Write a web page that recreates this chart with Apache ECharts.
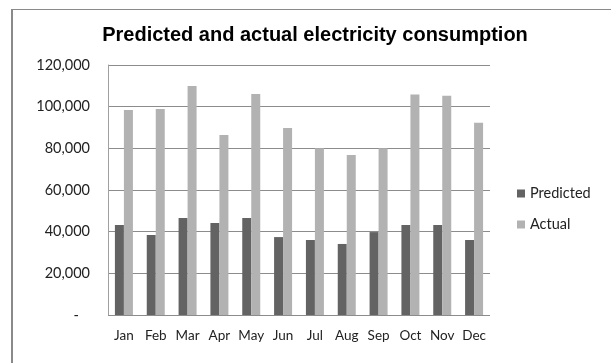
<!DOCTYPE html>
<html>
<head>
<meta charset="utf-8">
<script src="https://cdn.jsdelivr.net/npm/echarts@6/dist/echarts.min.js"></script>
<style>html,body{margin:0;padding:0;background:#fff}#c{width:611px;height:363px}</style>
</head>
<body>
<div id="c"></div>
<script>
var months = ['Jan','Feb','Mar','Apr','May','Jun','Jul','Aug','Sep','Oct','Nov','Dec'];
var predicted = [43200, 38400, 46600, 44200, 46600, 37400, 36000, 34100, 39800, 43200, 43200, 36000];
var actual = [98400, 98900, 109900, 86400, 106100, 89800, 80000, 76800, 80000, 105800, 105300, 92300];
var yTicks = {min: 0, max: 120000, interval: 20000};

var chart = echarts.init(document.getElementById('c'), null, {renderer: 'canvas'});
var font = 'Lato, "Open Sans", sans-serif';
chart.setOption({
  backgroundColor: '#ffffff',
  animation: false,
  title: {
    text: 'Predicted and actual electricity consumption',
    left: 315, top: 25, textAlign: 'center', padding: 0,
    textStyle: {fontFamily: 'Liberation Sans, Arial, sans-serif', fontSize: 20, fontWeight: 'bold', color: '#000'}
  },
  graphic: [
    {type: 'line', shape: {x1: 12, y1: 9.5, x2: 620, y2: 9.5}, style: {stroke: '#8a8a8a', lineWidth: 1}},
    {type: 'line', shape: {x1: 12, y1: 9, x2: 12, y2: 370}, style: {stroke: '#8a8a8a', lineWidth: 2}}
  ],
  legend: {
    orient: 'vertical', left: 517, top: 186, padding: 0, itemWidth: 8, itemHeight: 8, itemGap: 16,
    icon: 'rect',
    textStyle: {fontFamily: font, fontSize: 14.5, color: '#222'},
    data: ['Predicted', 'Actual']
  },
  grid: {left: 108, right: 121, top: 65, bottom: 48, containLabel: false},
  xAxis: {
    type: 'category', data: months,
    axisLine: {show: false}, axisTick: {show: false},
    axisLabel: {interval: 0, fontFamily: font, fontSize: 13.5, color: '#222', margin: 14}
  },
  yAxis: {
    type: 'value', min: yTicks.min, max: yTicks.max, interval: yTicks.interval,
    axisLine: {show: true, lineStyle: {color: '#a0a0a0'}},
    axisTick: {show: false},
    splitLine: {lineStyle: {color: '#8c8c8c', width: 1}},
    axisLabel: {
      fontFamily: font, fontSize: 14.5, color: '#222', margin: 18,
      formatter: function (v) { return v === 0 ? '-   ' : v.toLocaleString('en-US'); }
    }
  },
  series: [
    {name: 'Predicted', type: 'bar', data: predicted, barWidth: 9, barGap: '0%', itemStyle: {color: '#636363'}},
    {name: 'Actual', type: 'bar', data: actual, barWidth: 9, itemStyle: {color: '#b2b2b2'}}
  ]
});
</script>
</body>
</html>
